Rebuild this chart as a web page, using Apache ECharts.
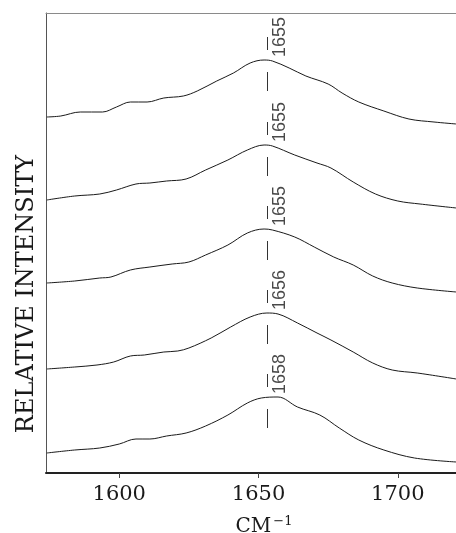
<!DOCTYPE html>
<html>
<head>
<meta charset="utf-8">
<script src="https://cdn.jsdelivr.net/npm/echarts@6/dist/echarts.min.js"></script>
<style>
  html, body { margin: 0; padding: 0; background: #fff; }
  #chart { width: 456px; height: 533px; }
</style>
</head>
<body>
<div id="chart"></div>
<script>
// Amide I region, five spectra stacked from top to bottom: [wavenumber (cm-1), offset intensity]
const trace1 = [[1574,35.6],[1579,35.7],[1586,36.1],[1594,36.1],[1599,36.6],[1604,37.1],[1610,37.1],[1616,37.5],[1623,37.7],[1628,38.2],[1635,39.2],[1641,40.0],[1647,41.0],[1652,41.3],[1655,41.2],[1661,40.5],[1667,39.7],[1675,38.9],[1680,38.0],[1686,37.1],[1695,36.2],[1704,35.4],[1713,35.1],[1721,34.9]];
const trace2 = [[1574,27.3],[1584,27.7],[1593,27.9],[1599,28.3],[1606,28.9],[1611,29.0],[1617,29.2],[1624,29.4],[1631,30.3],[1639,31.3],[1646,32.3],[1652,32.8],[1655,32.7],[1663,31.8],[1671,31.0],[1676,30.5],[1684,29.1],[1692,27.9],[1700,27.2],[1708,26.9],[1721,26.5]];
const trace3 = [[1574,19.0],[1584,19.2],[1593,19.5],[1597,19.6],[1604,20.3],[1611,20.6],[1619,20.9],[1625,21.1],[1631,21.8],[1639,22.8],[1646,24.0],[1652,24.4],[1655,24.3],[1663,23.6],[1670,22.6],[1677,21.6],[1684,20.8],[1691,19.7],[1698,19.0],[1707,18.5],[1721,18.1]];
const trace4 = [[1574,10.4],[1584,10.6],[1592,10.8],[1598,11.1],[1604,11.7],[1609,11.8],[1616,12.1],[1621,12.2],[1625,12.5],[1633,13.5],[1640,14.6],[1647,15.6],[1653,16.0],[1657,15.9],[1664,15.0],[1671,14.0],[1676,13.3],[1684,12.1],[1691,11.0],[1698,10.3],[1707,10.0],[1721,9.4]];
const trace5 = [[1574,2.0],[1584,2.3],[1593,2.5],[1600,2.9],[1606,3.4],[1611,3.4],[1617,3.7],[1624,4.0],[1631,4.7],[1639,5.8],[1646,7.0],[1651,7.5],[1657,7.6],[1664,6.6],[1672,5.8],[1679,4.5],[1686,3.3],[1695,2.3],[1706,1.5],[1721,1.1]];

const traces = [trace1, trace2, trace3, trace4, trace5];
const peakLabels = ['1655', '1655', '1655', '1656', '1658'];
const markerX = 1653;          // reference line drawn through every band
const xTicks = [1600, 1650, 1700];
const xMin = 1573.7, xMax = 1720.9;

const serif = '"DejaVu Serif", "Liberation Serif", serif';
const sans = '"Liberation Sans", Arial, sans-serif';
const ink = '#1a1a1a';

// Band maxima, used to place the short marker dashes and the peak labels
const peakValues = traces.map(t => Math.max(...t.map(p => p[1])));

const dashSegments = [];
peakValues.forEach(v => {
  dashSegments.push({ coords: [[markerX, v + 2.3], [markerX, v + 1.0]] });
  dashSegments.push({ coords: [[markerX, v - 1.2], [markerX, v - 3.1]] });
});

const series = traces.map((t, i) => ({
  name: 'spectrum ' + (i + 1),
  type: 'line',
  data: t,
  smooth: 0.35,
  showSymbol: false,
  lineStyle: { color: ink, width: 1 },
  silent: true
}));

series.push({
  name: 'markers',
  type: 'lines',
  coordinateSystem: 'cartesian2d',
  data: dashSegments,
  lineStyle: { color: '#333', width: 1, opacity: 1 },
  silent: true
});

series.push({
  name: 'peak labels',
  type: 'scatter',
  symbolSize: 0,
  data: peakValues.map((v, i) => ({ value: [markerX, v + 0.3], name: peakLabels[i] })),
  label: {
    show: true,
    formatter: p => p.name,
    position: [13, 0],
    rotate: 90,
    align: 'left',
    verticalAlign: 'middle',
    fontFamily: sans,
    fontSize: 18,
    color: ink
  },
  silent: true
});

const chart = echarts.init(document.getElementById('chart'), null, { renderer: 'canvas' });
chart.setOption({
  animation: false,
  backgroundColor: '#fff',
  grid: { left: 46, right: 0, top: 13, bottom: 60, containLabel: false, outerBoundsMode: 'none' },
  xAxis: [{
    type: 'value',
    min: xMin,
    max: xMax,
    position: 'bottom',
    axisLine: { show: true, lineStyle: { color: '#222', width: 2 } },
    axisTick: { show: true, customValues: xTicks, length: 5, lineStyle: { color: '#444', width: 1 } },
    axisLabel: {
      customValues: xTicks,
      formatter: v => String(Math.round(v)),
      margin: 11,
      fontFamily: serif,
      fontSize: 21,
      color: ink
    },
    splitLine: { show: false },
    name: '{a|CM}{b|\u22121}',
    nameLocation: 'middle',
    nameGap: 42,
    nameTextStyle: {
      padding: [0, 0, 0, 26],
      rich: {
        a: { fontFamily: serif, fontSize: 20, color: ink },
        b: { fontFamily: serif, fontSize: 13, color: ink, padding: [0, 0, 10, 2] }
      }
    }
  }, {
    type: 'value',
    min: xMin,
    max: xMax,
    position: 'top',
    axisLine: { show: true, lineStyle: { color: '#8a8a8a', width: 1 } },
    axisTick: { show: false },
    axisLabel: { show: false },
    splitLine: { show: false }
  }],
  yAxis: {
    type: 'value',
    min: 0,
    max: 46,
    axisLine: { show: true, lineStyle: { color: '#555', width: 1 } },
    axisTick: { show: false },
    axisLabel: { show: false },
    splitLine: { show: false },
    name: 'RELATIVE INTENSITY',
    nameLocation: 'middle',
    nameGap: 7,
    nameTextStyle: { fontFamily: serif, fontSize: 24, color: ink, padding: [0, 102, 0, 0] }
  },
  series: series
});
</script>
</body>
</html>
